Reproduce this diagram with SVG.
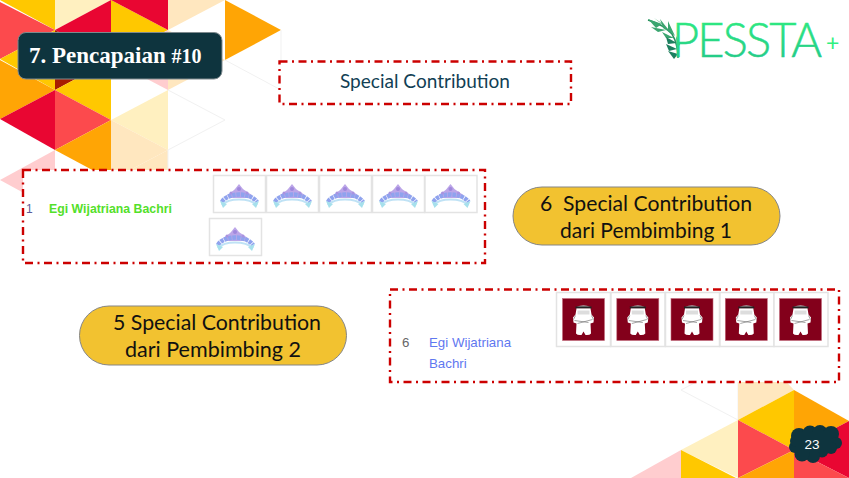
<svg xmlns="http://www.w3.org/2000/svg" xmlns:xlink="http://www.w3.org/1999/xlink" width="849" height="478" viewBox="0 0 849 478">
<style>
.y{fill:#ffc800}.o{fill:#ffa505}.r{fill:#e90632}.c{fill:#fc4a4d}.cr{fill:#fff0c0}.p{fill:#ffe7bf}.pk{fill:#ffcdcf}.dr{fill:#a81d00}
.g{fill:none;stroke:#f1f1f1;stroke-width:1}
.box{fill:#fff;stroke:#cc0000;stroke-width:2.400;stroke-dasharray:8 4.500 2 4.500}
.pill{fill:#f2c230;stroke:#858585;stroke-width:1}
.pt{font-family:"Lato","Open Sans",sans-serif;font-size:21.500px;fill:#111;white-space:pre}
.cell{fill:#fff;stroke:#e3e3e3;stroke-width:1.500}
.lf{fill:#3aa56f}.lf2{fill:#1f7f5e}
</style>
<defs>
<filter id="bl" x="-10%" y="-10%" width="120%" height="120%"><feGaussianBlur stdDeviation="0.500"/></filter>
<linearGradient id="lg" x1="0" y1="0" x2="0" y2="1"><stop offset="0" stop-color="#30f07f"/><stop offset="1" stop-color="#22c48a"/></linearGradient>
<g id="tiara" filter="url(#bl)">
<path d="M14 14 Q20 10 22 8 L26 3 L30 8 Q33 10 39 14 L36 17 H16Z" fill="#bca6e8"/>
<path d="M9 21 Q13 14 26 13.500 Q39 14 44 21" fill="none" stroke="#8fa3ee" stroke-width="4.500" stroke-dasharray="3.500 .7"/>
<circle cx="26" cy="8" r="2" fill="#a088dc"/><circle cx="18" cy="12" r="1.500" fill="#a893e0"/><circle cx="34" cy="12" r="1.500" fill="#a893e0"/>
<path d="M9 24 Q14 18.500 26 18.500 Q38 18.500 44 24" fill="none" stroke="#bfe2f5" stroke-width="2.200"/>
<path d="M7 20 L10 27 L14 23Z M46 20 L43 27 L39 23Z" fill="#a6e0ec"/>
</g>
<g id="man">
<rect width="42" height="42" fill="#83001b" stroke="#c46a7c" stroke-width=".6"/>
<g filter="url(#bl)">
<path d="M14 8.500 Q21 5 28 8.500 L28 10 L14 10Z" fill="#aaa"/>
<rect x="13" y="8" width="16" height="2" fill="#222"/>
<path d="M14 10 H28 L29 16 L31.500 19 L31 24 L28 25 L28.500 35 Q27 37 23 36.500 L21 33 L19 36.500 Q15 37 13.500 35 L14 25 L11 24 L10.500 19 L13 16Z" fill="#fff"/>
<path d="M15 12 H27 V16 H15Z" fill="#ddd"/>
<path d="M12 22 L26 24 M15 25 L30 21 M13 17 L11 21 M29 17 L31 21" stroke="#666" stroke-width=".6" fill="none"/>
</g>
</g>
</defs>
<rect width="849" height="478" fill="#fff"/>
<g id="bg-top-left">
<polygon class="y" points="0,0 55,0 55,30"/>
<polygon class="c" points="0,2 55,30 0,59"/>
<polygon class="cr" points="55,0 111,0 55,30"/>
<polygon class="r" points="111,0 111,60 55,30"/>
<polygon class="y" points="111,0 168,30 111,60"/>
<polygon class="r" points="111,0 168,0 168,30"/>
<polygon class="p" points="168,0 225,0 168,30"/>
<polygon class="o" points="225,0 281,30 225,60"/>
<polygon class="y" points="0,59 55,30 55,90"/>
<polygon class="dr" points="55,30 111,60 55,90"/>
<polygon class="o" points="0,60 55,90 0,119"/>
<polygon class="y" points="111,60 111,120 55,90"/>
<polygon class="pk" points="168,30 168,90 111,60"/>
<polygon class="p" points="168,30 225,60 168,90"/>
<polygon class="r" points="0,119 55,90 55,150"/>
<polygon class="c" points="55,90 111,120 55,150"/>
<polygon class="o" points="111,120 111,180 55,150"/>
<polygon class="cr" points="111,120 168,90 168,150"/>
<polygon class="p" points="111,120 168,150 111,180"/>
<polygon class="p" points="111,180 168,150 168,180"/>
<polygon class="pk" points="55,150 55,210 0,180"/>
<path class="g" d="M281 30V90L225 60M168 90L225 120L168 150V180"/>
</g>
<g id="bg-bottom-right">
<path class="g" d="M681 390L738 420M738 420V380M681 390L700 380"/>
<polygon class="p" points="738,375 780,375 794,390 738,420"/>
<polygon class="y" points="794,390 794,450 738,420"/>
<polygon class="o" points="794,390 849,421 794,450"/>
<polygon class="r" points="849,421 849,478 794,450"/>
<polygon class="c" points="738,420 794,450 738,478"/>
<polygon class="cr" points="738,420 738,478 681,450"/>
<polygon class="o" points="794,450 794,478 738,478"/>
<polygon class="c" points="794,450 849,478 794,478"/>
<polygon class="pk" points="681,450 681,478 631,478"/>
<polygon class="y" points="681,450 736,478 681,478"/>
</g>
<g id="title">
<rect x="18" y="32.500" width="204" height="46.500" rx="8" fill="#0e343e" stroke="#7e8a8e" stroke-width="1"/>
<text x="29" y="63" font-family="'Liberation Serif','DejaVu Serif',serif" font-weight="700" font-size="23" fill="#fff">7. Pencapaian <tspan font-size="20">#10</tspan></text>
</g>
<g id="logo">
<path d="M648 20 Q664 25 672 34 Q678 44 678 58" fill="none" stroke="#2a8f5f" stroke-width="1.500"/>
<g filter="url(#bl)">
<path class="lf" d="M648 19L662 24L656 28Z"/><path class="lf" d="M654 18L667 28L660 22Z"/>
<path class="lf" d="M660 19L671 33L663 28Z"/><path class="lf" d="M668 21L675 36L668 30Z"/>
<path class="lf" d="M651 27L666 30L658 32Z"/><path class="lf" d="M662 32L674 38L666 38Z"/>
<path class="lf2" d="M666 37L677 43L668 44Z"/><path class="lf2" d="M666 44L677 49L669 51Z"/><path class="lf2" d="M668 51L678 54L674 59Z"/>
<path class="lf" d="M676 36L680 44L677 50Z"/>
</g>
<text x="672" y="57" font-family="'Lato','Open Sans',sans-serif" font-weight="300" font-size="47" fill="url(#lg)" stroke="url(#lg)" stroke-width=".5" textLength="150" lengthAdjust="spacing">PESSTA</text>
<text x="826" y="51" font-family="'Lato',sans-serif" font-weight="400" font-size="23" fill="#30f07f">+</text>
</g>
<g id="special-contribution">
<rect class="box" x="279.500" y="61.500" width="291.500" height="42.500"/>
<text x="340" y="87.500" font-family="'Lato','Open Sans',sans-serif" font-size="19.500" fill="#123f55" textLength="170" lengthAdjust="spacingAndGlyphs">Special Contribution</text>
</g>
<g id="panel-1">
<rect class="box" x="23" y="170" width="462" height="93"/>
<text x="26" y="213" font-family="'Liberation Sans',sans-serif" font-size="12" fill="#5a5a9a">1</text>
<text x="49" y="213" font-family="'Liberation Sans',sans-serif" font-size="12.300" font-weight="700" fill="#53e02a">Egi Wijatriana Bachri</text>
<rect class="cell" x="213.500" y="175.500" width="52" height="37"/><use xlink:href="#tiara" href="#tiara" x="213" y="181"/>
<rect class="cell" x="266.500" y="175.500" width="52" height="37"/><use xlink:href="#tiara" href="#tiara" x="266" y="181"/>
<rect class="cell" x="319.500" y="175.500" width="52" height="37"/><use xlink:href="#tiara" href="#tiara" x="319" y="181"/>
<rect class="cell" x="372.500" y="175.500" width="52" height="37"/><use xlink:href="#tiara" href="#tiara" x="372" y="181"/>
<rect class="cell" x="425" y="175.500" width="52" height="37"/><use xlink:href="#tiara" href="#tiara" x="424.500" y="181"/>
<rect class="cell" x="209.500" y="218.500" width="52" height="37"/><use xlink:href="#tiara" href="#tiara" x="209" y="224"/>
</g>
<g id="pill-1">
<rect class="pill" x="513" y="187" width="267" height="58" rx="29"/>
<text class="pt" x="540" y="211" textLength="212" lengthAdjust="spacingAndGlyphs">6  Special Contribution</text>
<text class="pt" x="560" y="237.500" textLength="172" lengthAdjust="spacingAndGlyphs">dari Pembimbing 1</text>
</g>
<g id="pill-2">
<rect class="pill" x="79.500" y="306" width="267" height="59" rx="29.500"/>
<text class="pt" x="113" y="330" textLength="208" lengthAdjust="spacingAndGlyphs">5 Special Contribution</text>
<text class="pt" x="125" y="356.500" textLength="176" lengthAdjust="spacingAndGlyphs">dari Pembimbing 2</text>
</g>
<g id="panel-2">
<rect class="box" x="390" y="289.500" width="449" height="92.500"/>
<text x="402" y="346.500" font-family="'Liberation Sans',sans-serif" font-size="13.300" fill="#666">6</text>
<text font-family="'Liberation Sans',sans-serif" font-size="13.300" fill="#5f78f0"><tspan x="429" y="346.500">Egi Wijatriana</tspan><tspan x="429" y="368">Bachri</tspan></text>
<rect class="cell" x="556.500" y="292.500" width="54" height="54"/><use xlink:href="#man" href="#man" x="562.500" y="298.500"/>
<rect class="cell" x="611" y="292.500" width="54" height="54"/><use xlink:href="#man" href="#man" x="616.800" y="298.500"/>
<rect class="cell" x="665.500" y="292.500" width="54" height="54"/><use xlink:href="#man" href="#man" x="671" y="298.500"/>
<rect class="cell" x="720" y="292.500" width="54" height="54"/><use xlink:href="#man" href="#man" x="725.300" y="298.500"/>
<rect class="cell" x="774" y="292.500" width="54" height="54"/><use xlink:href="#man" href="#man" x="779.500" y="298.500"/>
</g>
<g id="page-number">
<g fill="#0e343e">
<circle cx="799" cy="436" r="8"/><circle cx="810" cy="433" r="7.500"/><circle cx="820" cy="432.500" r="7.500"/><circle cx="831" cy="434" r="8"/><circle cx="836" cy="443" r="6"/><circle cx="831" cy="448" r="6"/><circle cx="822" cy="451" r="6.500"/><circle cx="813" cy="456" r="7"/><circle cx="802" cy="454" r="7.500"/><circle cx="795" cy="447" r="6"/><circle cx="796" cy="441" r="6"/>
<rect x="796" y="432" width="36" height="20"/>
</g>
<text x="812" y="449" font-family="'Liberation Sans',sans-serif" font-size="13.500" fill="#fff" text-anchor="middle">23</text>
</g>
</svg>
